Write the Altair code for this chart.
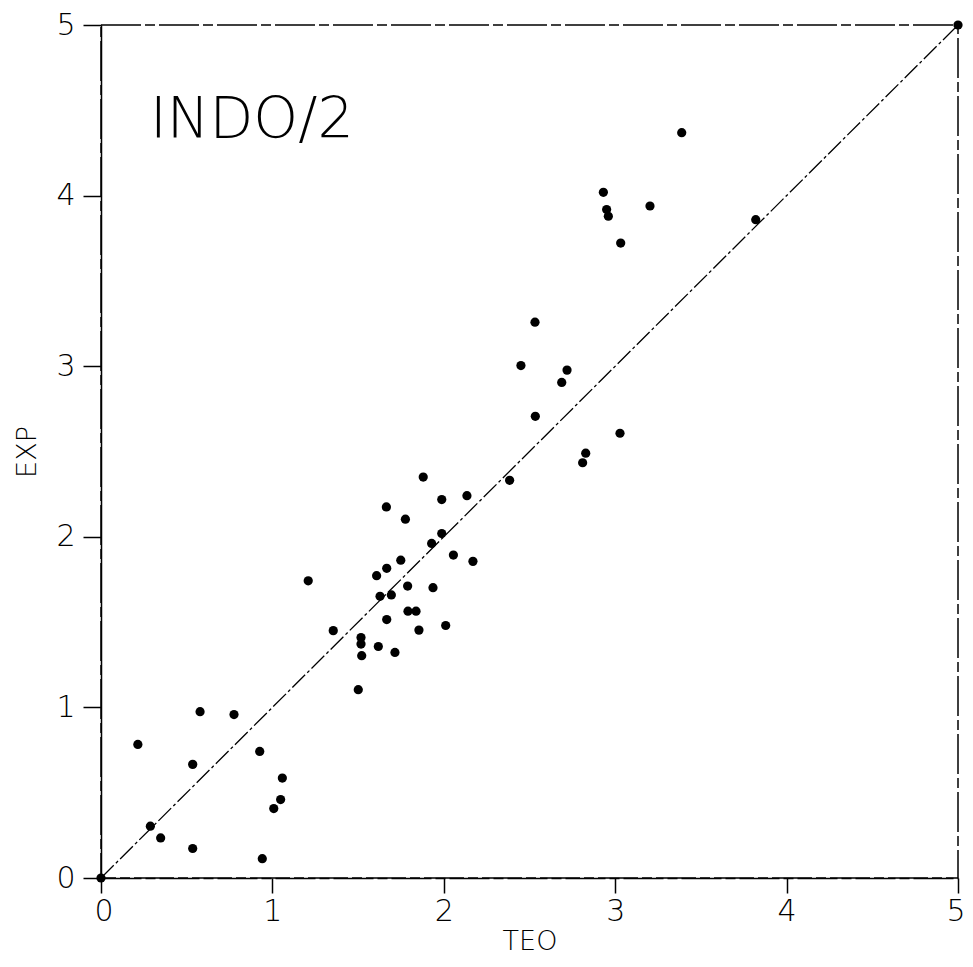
import altair as alt
import pandas as pd

teo = [0.0, 5.0,
       0.215, 0.578, 0.776, 0.535, 0.926, 1.058, 1.048, 1.008, 0.288, 0.348, 0.535, 0.941,
       1.209, 1.665, 1.988, 2.135, 1.776, 1.988, 1.929, 2.056, 2.170, 1.749, 1.667, 1.608,
       1.789, 1.937, 1.694, 1.628, 1.791, 1.838, 1.667, 2.011, 1.855, 1.355, 1.517, 1.517,
       1.521, 1.618, 1.715, 1.501,
       2.534, 3.028, 2.828, 2.810, 2.384, 1.880,
       3.388, 2.931, 2.950, 2.960, 3.203, 3.032, 3.820, 2.532, 2.450, 2.719, 2.688]
exp = [0.0, 5.0,
       0.783, 0.975, 0.958, 0.666, 0.742, 0.586, 0.460, 0.407, 0.304, 0.235, 0.173, 0.113,
       1.742, 2.175, 2.218, 2.241, 2.103, 2.019, 1.961, 1.893, 1.856, 1.863, 1.815, 1.772,
       1.711, 1.702, 1.659, 1.651, 1.564, 1.564, 1.515, 1.480, 1.453, 1.450, 1.409, 1.371,
       1.303, 1.357, 1.322, 1.104,
       2.706, 2.607, 2.490, 2.434, 2.331, 2.350,
       4.369, 4.019, 3.918, 3.879, 3.939, 3.722, 3.859, 3.258, 3.004, 2.977, 2.905]

line_x = [0, 5]
line_y = [0, 5]
ticks = [0, 1, 2, 3, 4, 5]

label_text = ["INDO/2"]
label_x = [0.286]
label_y = [4.34]

pts = pd.DataFrame({"TEO": teo, "EXP": exp})
diag = pd.DataFrame({"TEO": line_x, "EXP": line_y})
lab = pd.DataFrame({"t": label_text, "x": label_x, "y": label_y})

FONT = "DejaVu Sans"

xs = alt.Scale(domain=[0, 5], nice=False, zero=True)
ys = alt.Scale(domain=[0, 5], nice=False, zero=True)

xaxis = alt.Axis(values=ticks, title="TEO", grid=False, format="d",
                 domainColor="black", domainWidth=1.5, domainDash=[40, 4, 10, 4],
                 tickColor="black", tickWidth=1.5, tickSize=15,
                 labelFont=FONT, labelFontSize=30, labelFontWeight=200, labelColor="black",
                 labelPadding=3, labelFlush=True, labelFlushOffset=7,
                 titleFont=FONT, titleFontSize=27, titleFontWeight=200, titleColor="black",
                 titlePadding=2)
yaxis = alt.Axis(values=ticks, title="EXP", grid=False, format="d",
                 domainColor="black", domainWidth=1.5,
                 tickColor="black", tickWidth=1.5, tickSize=18,
                 labelFont=FONT, labelFontSize=30, labelFontWeight=200, labelColor="black",
                 labelPadding=8, labelFlush=False,
                 titleFont=FONT, titleFontSize=27, titleFontWeight=200, titleColor="black",
                 titlePadding=14)

line = alt.Chart(diag).mark_line(color="black", strokeWidth=1.3, strokeDash=[18, 3, 3, 3]).encode(
    x=alt.X("TEO:Q", scale=xs, axis=xaxis),
    y=alt.Y("EXP:Q", scale=ys, axis=yaxis),
)

points = alt.Chart(pts).mark_point(filled=True, color="black", opacity=1, size=85, shape="circle").encode(
    x=alt.X("TEO:Q", scale=xs),
    y=alt.Y("EXP:Q", scale=ys),
)

text = alt.Chart(lab).mark_text(align="left", baseline="alphabetic", font=FONT,
                                fontSize=57, fontWeight=200, color="black").encode(
    x=alt.X("x:Q", scale=xs),
    y=alt.Y("y:Q", scale=ys),
    text="t:N",
)

chart = alt.layer(line, points, text).properties(
    width=857, height=853,
    autosize=alt.AutoSizeParams(type="none"),
    padding={"left": 93, "top": 17, "right": 7, "bottom": 80},
    background="white",
).configure_view(stroke="black", strokeWidth=1.5, strokeDash=[40, 4, 10, 4])

chart.save("out.html", embed_options={"renderer": "svg", "actions": False})
